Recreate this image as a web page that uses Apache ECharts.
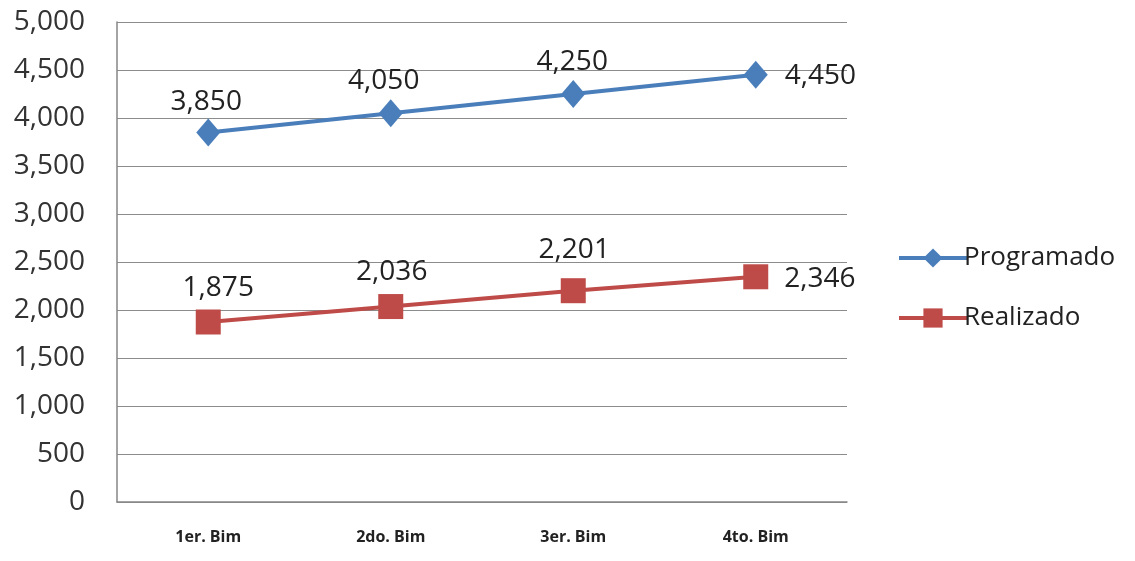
<!DOCTYPE html>
<html>
<head>
<meta charset="utf-8">
<script src="https://cdn.jsdelivr.net/npm/echarts@6/dist/echarts.min.js"></script>
<style>
  html, body { margin: 0; padding: 0; background: #ffffff; }
  #chart { width: 1135px; height: 561px; }
</style>
</head>
<body>
<div id="chart"></div>
<script>
// Bimestres y valores programados / realizados
const categories = ['1er. Bim', '2do. Bim', '3er. Bim', '4to. Bim'];
const programado = [3850, 4050, 4250, 4450];
const realizado = [1875, 2036, 2201, 2346];
const yMin = 0, yMax = 5000, yStep = 500;

const FONT = '"Open Sans", "Noto Sans", sans-serif';
const BLUE = '#4a7ebb';
const RED = '#be4b48';

// Ajuste fino de cada etiqueta: [desplazamiento x, distancia al marcador]
const nudgeProgramado = [[-2, 2], [-7, 4], [-1, 4], [0, 17]];
const nudgeRealizado = [[10, 7], [1, 8], [1, 14], [0, 16]];

function fmt(v) { return v.toLocaleString('en-US'); }

// Etiquetas: arriba en los primeros puntos, a la derecha en el último
function labelsFor(values, nudges, lastDy) {
  return values.map((v, i) => {
    const last = i === values.length - 1;
    const [dx, dist] = nudges[i];
    return {
      value: v,
      label: last
        ? { position: 'right', distance: dist, offset: [0, lastDy] }
        : { position: 'top', distance: dist, offset: [dx, 0] }
    };
  });
}

const chart = echarts.init(document.getElementById('chart'), null, { renderer: 'canvas' });
chart.setOption({
  backgroundColor: '#ffffff',
  animation: false,
  grid: { left: 117, right: 288, top: 22, bottom: 59 },
  legend: {
    orient: 'vertical',
    left: 892,
    top: 240,
    itemWidth: 68,
    itemHeight: 24,
    itemGap: 34,
    lineStyle: { width: 4 },
    textStyle: { fontFamily: FONT, fontSize: 26, color: '#222', padding: [0, 0, 0, -8] },
    data: ['Programado', 'Realizado']
  },
  xAxis: {
    type: 'category',
    data: categories,
    boundaryGap: true,
    axisLine: { lineStyle: { color: '#868686', width: 1.5 } },
    axisTick: { show: false },
    axisLabel: { margin: 27, fontFamily: FONT, fontSize: 16, fontWeight: 'bold', color: '#222' },
    splitLine: { show: false }
  },
  yAxis: {
    type: 'value',
    min: yMin, max: yMax, interval: yStep,
    axisLine: { show: true, lineStyle: { color: '#868686', width: 1.5 } },
    axisTick: { show: false },
    axisLabel: {
      margin: 32, fontFamily: FONT, fontSize: 28, color: '#333',
      formatter: v => fmt(v)
    },
    splitLine: { lineStyle: { color: '#8c8c8c', width: 1 } }
  },
  series: [
    {
      name: 'Programado',
      type: 'line',
      data: labelsFor(programado, nudgeProgramado, 1),
      symbol: 'diamond',
      symbolSize: [24, 28],
      itemStyle: { color: BLUE },
      lineStyle: { color: BLUE, width: 4 },
      label: { show: true, fontFamily: FONT, fontSize: 28, color: '#222', formatter: p => fmt(p.value) }
    },
    {
      name: 'Realizado',
      type: 'line',
      data: labelsFor(realizado, nudgeRealizado, 2),
      symbol: 'rect',
      symbolSize: 25,
      itemStyle: { color: RED },
      lineStyle: { color: RED, width: 4 },
      label: { show: true, fontFamily: FONT, fontSize: 28, color: '#222', formatter: p => fmt(p.value) }
    }
  ]
});
</script>
</body>
</html>
